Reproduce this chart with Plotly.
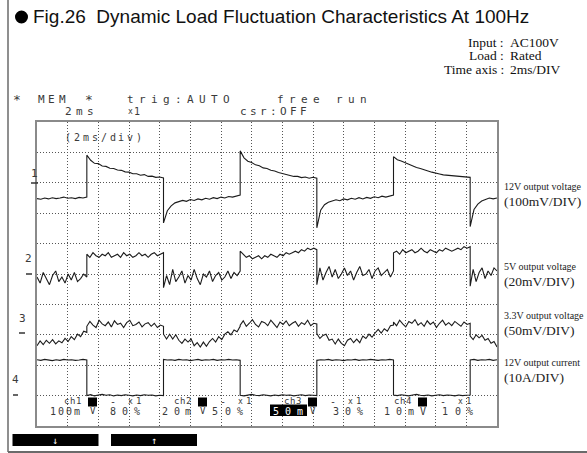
import numpy as np
import plotly.graph_objects as go

# ---------------- data ----------------
# time axis: 2 ms/div, 15 divisions; load switches at these instants (ms)
edges_ms = [0, 3.25, 8.25, 13.25, 18.25, 23.25, 28.25, 30]

# channel settings: volts/amps per division and marker position (div from bottom)
ch_names = ["12V output voltage", "5V output voltage", "3.3V output voltage", "12V output current"]
ch_scale_labels = ["(100mV/DIV)", "(20mV/DIV)", "(50mV/DIV)", "(10A/DIV)"]
ch_scale = [100, 20, 50, 10]
ch_marker_div = [8, 5, 3, 1]

# ch1: 12V output deviation (mV), one list per load segment
v12_mV = [
    [-52, -54, -50, -53, -49, -52, -50, -47, -51, -49, -52, -48, -50, -47],
    [91, 74, 64, 63, 55, 54, 48, 47, 42, 41, 36, 35, 30, 30, 25, 27, 21, 22, 18, 19, 16],
    [-132, -92, -76, -66, -63, -58, -61, -55, -58, -53, -56, -51, -54, -49, -52, -47, -50, -45, -47, -43, -40],
    [105, 82, 71, 67, 59, 56, 49, 47, 41, 39, 34, 31, 27, 25, 21, 21, 17, 19, 15, 18, 15],
    [-148, -90, -72, -64, -60, -56, -59, -53, -56, -51, -54, -49, -53, -48, -51, -46, -49, -44, -47, -43, -40],
    [86, 76, 72, 66, 61, 56, 50, 47, 42, 39, 35, 31, 29, 26, 25, 22, 21, 22, 19, 20, 18],
    [-144, -88, -70, -60, -55, -50, -53, -50],
]

# ch2: 5V output deviation (mV)
v5_mV = [
    [-2, -6, 1, -3, -7, -1, 2, -5, -2, -6, 0, -4, 1, -5, -3, 0, -2],
    [13, 11, 14, 12, 11, 13, 12, 14, 11, 12, 13, 11, 14, 12, 13, 11, 12, 14, 12, 13, 11, 13, 14, 12, 13, 14],
    [-9, -1, -7, 3, -5, -2, 2, -6, -1, -4, 3, -3, -7, 0, -2, 2, -5, -1, 1, -4, -2, 2, -3, 1, -1, 2],
    [15, 13, 11, 12, 10, 11, 12, 10, 12, 11, 13, 12, 11, 13, 12, 14, 13, 14, 15, 14, 16, 15, 17, 16, 17, 16],
    [-7, 4, -4, 1, 5, -2, 3, -3, 0, 4, -1, 2, -4, 1, 5, -1, 0, 3, -3, 2, 4, -1, 1, 3, -2, 2],
    [14, 15, 13, 16, 14, 15, 16, 14, 15, 17, 15, 14, 16, 15, 14, 16, 15, 17, 16, 15, 16, 17, 16, 18, 17, 18],
    [-8, 3, -5, 1, 4, -3, 2, -1, 4, 2],
]

# ch3: 3.3V output deviation (mV)
v33_mV = [
    [-18, -10, -16, -9, -14, -8, -15, -10, -13, -6, -11, -3, -8, 1, -3, 6, 4],
    [14, 22, 16, 12, 24, 18, 15, 21, 13, 23, 17, 19, 12, 20, 24, 15, 17, 21, 13, 18, 20, 14, 19, 12, 16, 14],
    [1, -7, 1, -7, 0, -9, -14, -7, -12, -7, -18, -13, -20, -12, -19, -11, -6, -12, -3, -8, 1, 5, 0, 8, 5, 14],
    [16, 23, 14, 19, 25, 17, 13, 22, 20, 15, 24, 18, 12, 21, 17, 23, 15, 19, 22, 14, 20, 17, 24, 15, 19, 18],
    [2, -6, -1, 1, -9, -7, -15, -7, -14, -18, -9, -6, -13, -7, -13, -2, -6, 1, -4, 3, 9, 3, 10, 6, 15, 16],
    [21, 15, 24, 18, 13, 22, 19, 25, 16, 20, 14, 23, 17, 21, 12, 19, 24, 16, 20, 15, 22, 18, 14, 21, 17, 19],
    [-2, -8, 0, -5, -1, -9, -6, -14, -11, -20],
]

# ch4: 12V output current (A)
i12_A = [
    [11.8, 11.6, 11.9, 11.7, 11.5, 11.8, 11.6, 11.9, 11.7, 11.8, 11.6, 11.7, 11.9, 11.7],
    [0.0, 0.3, -0.1, 0.2, 0.4, 0.1, 0.3, -0.1, 0.2, 0.0, 0.3, 0.1, -0.1, 0.2, 0.0, 0.3, 0.1, 0.2, -0.1, 0.1, 0.0],
    [11.9, 11.7, 11.8, 11.6, 11.9, 11.7, 11.8, 11.5, 11.7, 11.9, 11.6, 11.8, 11.7, 11.9, 11.6, 11.8, 11.7, 11.9, 11.7, 11.8, 11.6],
    [0.1, -0.1, 0.2, 0.4, 0.1, 0.0, 0.3, 0.1, -0.1, 0.2, 0.0, 0.3, 0.1, 0.2, -0.1, 0.1, 0.3, 0.0, 0.2, 0.1, 0.0],
    [11.6, 11.8, 11.7, 11.9, 11.6, 11.8, 11.7, 11.5, 11.8, 11.7, 11.9, 11.6, 11.8, 11.7, 11.9, 11.7, 11.6, 11.8, 11.7, 11.9, 11.7],
    [0.2, 0.0, 0.3, 0.1, -0.1, 0.2, 0.4, 0.1, 0.0, 0.2, -0.1, 0.1, 0.3, 0.0, 0.2, 0.1, -0.1, 0.2, 0.0, 0.1, 0.2],
    [11.7, 11.9, 11.6, 11.8, 11.7, 11.9, 11.6, 11.8],
]

title_text = "Fig.26\u00a0\u00a0Dynamic Load Fluctuation Characteristics At 100Hz"
cond_labels = ["Input", "Load", "Time axis"]
cond_values = ["AC100V", "Rated", "2ms/DIV"]

# ---------------- build ----------------
W, H = 587, 453
L, R, T, B = 37, 497, 122, 426


def px(x):
    return (x - L) / (R - L)


def py(y):
    return (B - y) / (B - T)


def build(segs):
    t, v = [], []
    for k, seg in enumerate(segs):
        t += list(np.linspace(edges_ms[k], edges_ms[k + 1], len(seg)))
        v += list(seg)
    return np.array(t), np.array(v, dtype=float)


fig = go.Figure()
for segs, sc, mk in zip([v12_mV, v5_mV, v33_mV, i12_A], ch_scale, ch_marker_div):
    t, v = build(segs)
    fig.add_trace(go.Scatter(x=t, y=mk + v / sc, mode="lines",
                             line=dict(color="#1c1c1c", width=1.1),
                             hoverinfo="skip", showlegend=False))

MONO = "DejaVu Sans Mono, Liberation Mono, monospace"
SERIF = "Liberation Serif, Times New Roman, serif"
SANS = "Liberation Sans, Arial, sans-serif"
TXT = "#3a3a3a"

ann = []
shapes = []


def text(s, x, y, size, color=TXT, family=MONO, xanchor="center"):
    ann.append(dict(x=px(x), y=py(y), xref="paper", yref="paper", text=s,
                    showarrow=False, xanchor=xanchor, yanchor="middle",
                    font=dict(family=family, size=size, color=color)))


def chars(s, x0, y, pitch, size=10, color=TXT):
    for i, ch in enumerate(s):
        if ch != " ":
            text(ch, x0 + i * pitch, y, size, color)


def rect(x0, y0, x1, y1, color="black"):
    shapes.append(dict(type="rect", xref="paper", yref="paper",
                       x0=px(x0), x1=px(x1), y0=py(y1), y1=py(y0),
                       fillcolor=color, line=dict(width=0), layer="above"))


def hline(x0, x1, y, color="#555", width=1.5):
    shapes.append(dict(type="line", xref="paper", yref="paper",
                       x0=px(x0), x1=px(x1), y0=py(y), y1=py(y),
                       line=dict(color=color, width=width), layer="above"))


# outer frame (left and bottom)
shapes.append(dict(type="line", xref="paper", yref="paper", x0=px(8), x1=px(8), y0=py(0), y1=py(452),
                   line=dict(color="#6a6a6a", width=1.5)))
hline(8, 590, 452, "#6a6a6a", 1.8)

# title
shapes.append(dict(type="circle", xref="paper", yref="paper", x0=px(15), x1=px(28), y0=py(23.5), y1=py(10.5),
                   fillcolor="black", line=dict(width=0)))
text(title_text, 31, 17, 19, "#111", SANS, "left")

# conditions (colon-aligned)
for lab, val, yy in zip(cond_labels, cond_values, [42, 55.5, 69.5]):
    text(lab + "\u00a0:", 506, yy, 13.5, "#111", SERIF, "right")
    text(val, 508, yy, 13.5, "#111", SERIF, "left")

# scope header
text("*", 17, 100, 13)
chars("MEM", 41, 100, 10.5, 11)
text("*", 89, 100, 13)
chars("trig:AUTO", 130, 100, 12.1, 11)
chars("free", 280, 100, 12, 11)
chars("run", 339, 100, 12, 11)
chars("2ms", 68, 111, 11, 11)
text("x", 130, 111, 8)
text("1", 137, 111, 10)
chars("csr:OFF", 243, 111, 10, 11)

# (2ms/div)
chars("(2ms/div)", 68, 137, 8.9, 10)

# channel markers on the left
for lab, (xl, yl), (dx0, dx1, dy) in zip(["1", "2", "3", "4"],
                                         [(34, 173), (28, 258), (22, 318), (15, 379)],
                                         [(31, 38, 183), (26, 32, 274), (19, 25, 333), (13, 18, 395)]):
    text(lab, xl, yl, 11)
    hline(dx0, dx1, dy, "#333", 1.5)

# right-side channel labels
for name, sl, y1, y2 in zip(ch_names, ch_scale_labels, [186, 266, 315, 362], [201, 281, 330, 377]):
    text(name, 502, y1, 10, "#222", SERIF, "left")
    text(sl, 502, y2, 13.5, "#222", SERIF, "left")

# bottom status rows inside the screen
for k, base in enumerate([63, 173, 283, 393]):
    chars("ch%d" % (k + 1), base + 3, 401, 6, 9)
    rect(base + 25, 397.5, base + 34, 406.5)
    text("-", base + 50, 401, 10)
    text("x", base + 67, 401, 8)
    text("1", base + 75, 401, 9)

chars("100m", 53, 411, 8, 10)
text("\u1e7c", 92.5, 411, 9)
chars("80%", 113, 411, 12, 10)
chars("20m", 165, 411, 11.5, 10)
text("\u1e7c", 203, 411, 9)
chars("50%", 215, 411, 12.5, 10)
rect(270, 404.5, 307, 416)
chars("50m", 276, 411, 12, 10, "white")
text("\u1e7c", 313, 411, 9)
chars("30%", 336, 411, 12, 10)
chars("10mV", 387, 411, 12, 10)
chars("10%", 445, 411, 12.5, 10)

# soft-key bars
rect(12.5, 434, 98.5, 446)
rect(111, 434, 197, 446)
text("\u2193", 55, 440, 10, "white")
text("\u2191", 154, 440, 10, "white")

axis_common = dict(showgrid=True, gridcolor="#555", gridwidth=1, griddash="1px,2px",
                   showline=True, mirror=True, linecolor="#8a8a8a", linewidth=1.5,
                   showticklabels=False, ticks="", zeroline=False, fixedrange=True)

fig.update_layout(
    width=W, height=H, autosize=False,
    margin=dict(l=L, r=W - R, t=T, b=H - B, pad=0),
    paper_bgcolor="white", plot_bgcolor="white",
    xaxis=dict(range=[0, 30], tick0=0, dtick=2, **axis_common),
    yaxis=dict(range=[0, 10], tick0=0, dtick=1, **axis_common),
    annotations=ann, shapes=shapes, showlegend=False,
)

fig.write_html("out.html", config={"displayModeBar": False},
               post_script="document.body.style.margin='0px';document.body.style.padding='0px';")
